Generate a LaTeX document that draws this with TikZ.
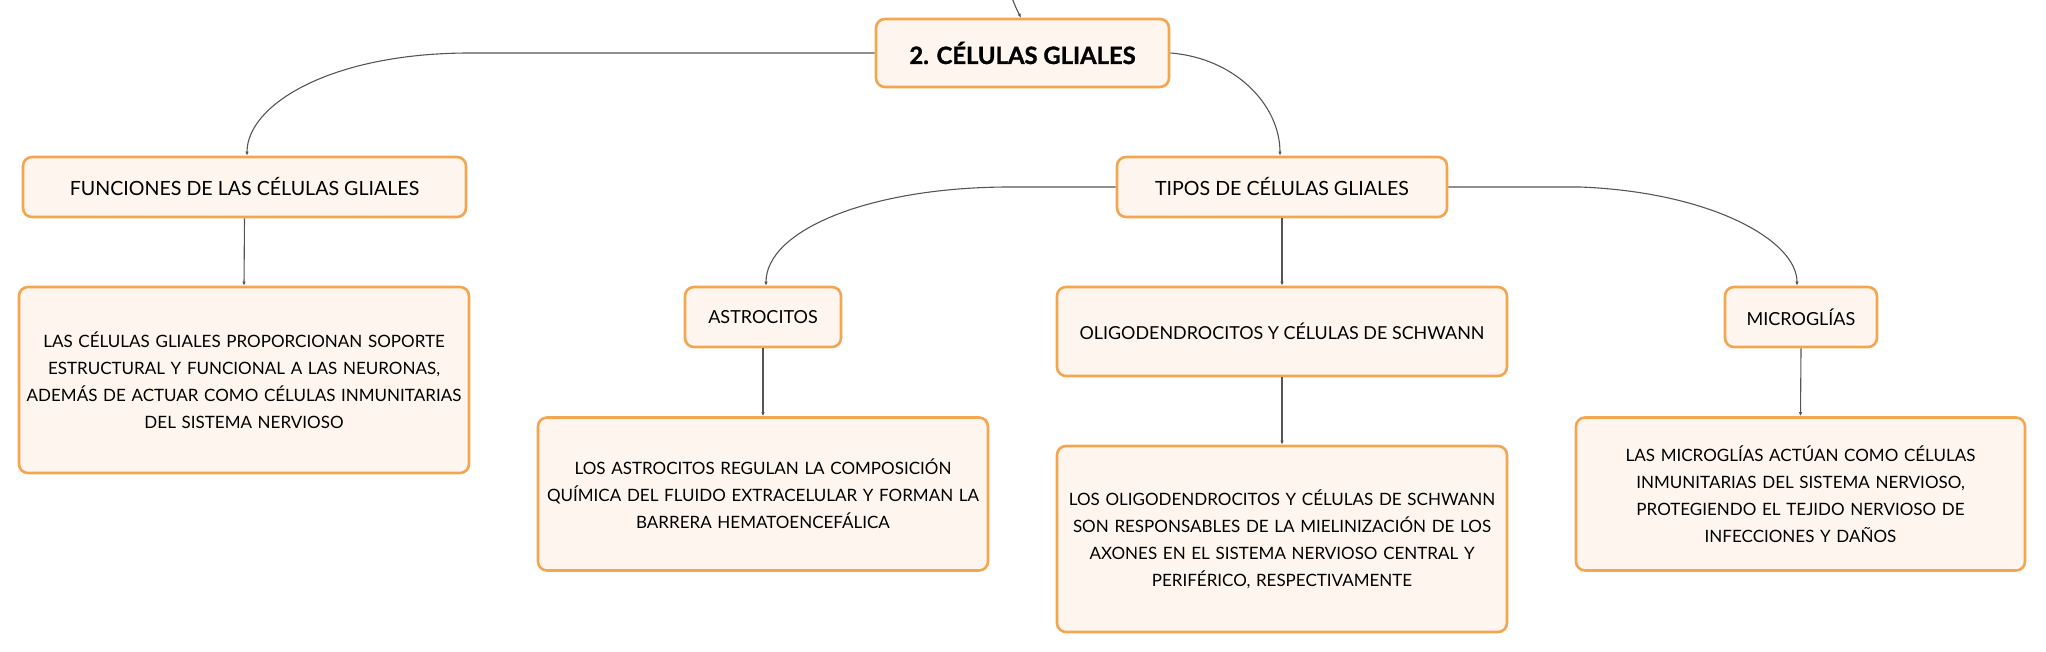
\documentclass[tikz,border=0pt]{standalone}
\usepackage{fontspec}
\setmainfont{Lato}
\newfontfamily\heavyfont{Lato}[BoldFeatures={FakeBold=1.3}]
\usetikzlibrary{arrows.meta}
\definecolor{boxborder}{HTML}{F3A550}
\definecolor{boxfill}{HTML}{FEF6EE}
\definecolor{linkgray}{HTML}{555555}
\tikzset{
  gbox/.style={draw=boxborder, fill=boxfill, line width=2.6pt, rounded corners=9pt,
    align=center, inner sep=0pt, font=\fontsize{18}{27}\selectfont, text=black},
  bodytext/.style={font=\fontsize{17}{27}\selectfont, text width=446pt},
  link/.style={draw=linkgray, line width=1.1pt, -{Latex[length=4pt,width=3.5pt]}},
}
\begin{document}
\begin{tikzpicture}[x=1pt,y=-1pt]
\useasboundingbox (0,0) rectangle (2046,652);
% nodes
\node[gbox, minimum width=293pt, minimum height=68pt, font=\fontsize{23.8}{27}\selectfont\heavyfont\bfseries] (main) at (1022.5,53) {2. CÉLULAS GLIALES};
\node[gbox, minimum width=443pt, minimum height=60pt, font=\fontsize{19.6}{27}\selectfont] (func) at (244.5,187) {FUNCIONES DE LAS CÉLULAS GLIALES};
\node[gbox, bodytext, minimum width=450pt, minimum height=186pt] (functext) at (244,380) {LAS CÉLULAS GLIALES PROPORCIONAN SOPORTE\\ESTRUCTURAL Y FUNCIONAL A LAS NEURONAS,\\ADEMÁS DE ACTUAR COMO CÉLULAS INMUNITARIAS\\DEL SISTEMA NERVIOSO};
\node[gbox, minimum width=330pt, minimum height=60pt, font=\fontsize{19.6}{27}\selectfont] (tipos) at (1282,187) {TIPOS DE CÉLULAS GLIALES};
\node[gbox, minimum width=156pt, minimum height=60pt] (astro) at (763,317) {ASTROCITOS};
\node[gbox, bodytext, minimum width=450pt, minimum height=153pt] (astrotext) at (763,494) {LOS ASTROCITOS REGULAN LA COMPOSICIÓN\\QUÍMICA DEL FLUIDO EXTRACELULAR Y FORMAN LA\\BARRERA HEMATOENCEFÁLICA};
\node[gbox, minimum width=450pt, minimum height=89pt, font=\fontsize{17.9}{27}\selectfont] (oligo) at (1282,331.5) {OLIGODENDROCITOS Y CÉLULAS DE SCHWANN};
\node[gbox, bodytext, minimum width=450pt, minimum height=186pt] (oligotext) at (1282,539) {LOS OLIGODENDROCITOS Y CÉLULAS DE SCHWANN\\SON RESPONSABLES DE LA MIELINIZACIÓN DE LOS\\AXONES EN EL SISTEMA NERVIOSO CENTRAL Y\\PERIFÉRICO, RESPECTIVAMENTE};
\node[gbox, minimum width=152pt, minimum height=60pt] (micro) at (1801,317) {MICROGLÍAS};
\node[gbox, bodytext, minimum width=449pt, minimum height=153pt] (microtext) at (1800.5,494) {LAS MICROGLÍAS ACTÚAN COMO CÉLULAS\\INMUNITARIAS DEL SISTEMA NERVIOSO,\\PROTEGIENDO EL TEJIDO NERVIOSO DE\\INFECCIONES Y DAÑOS};
% free end of the incoming connector
\coordinate (parent) at (1012,-2);
% connectors
\draw[link] (parent) .. controls (1016,8) .. (main.north -| 1021,0);
\draw[link] (main.west) -- (470,53) .. controls (330,53) and (247,105) .. (func.north -| 247,0);
\draw[link] (main.east) .. controls (1235,58) and (1280,105) .. (tipos.north -| 1280,0);
\draw[link] (func.south) -- (functext.north);
\draw[link] (tipos.west) -- (1010,187) .. controls (870,187) and (766,230) .. (astro.north -| 766,0);
\draw[link] (tipos.south) -- (oligo.north);
\draw[link] (tipos.east) -- (1580,187) .. controls (1710,192) and (1797,240) .. (micro.north -| 1797,0);
\draw[link] (astro.south) -- (astrotext.north);
\draw[link] (oligo.south) -- (oligotext.north);
\draw[link] (micro.south) -- (microtext.north);
\end{tikzpicture}
\end{document}
